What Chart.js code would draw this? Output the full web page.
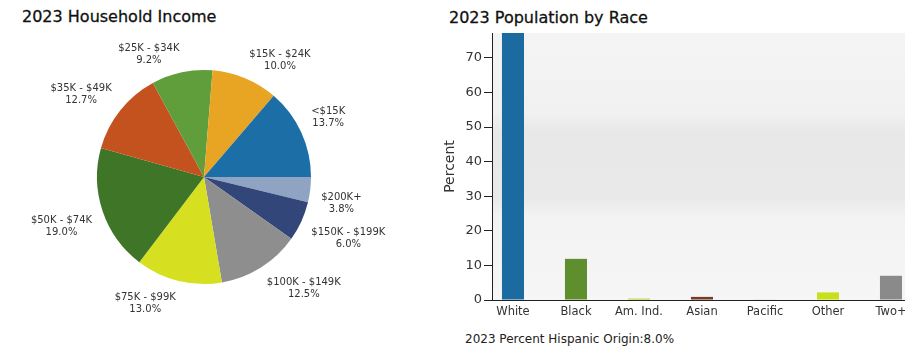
<!DOCTYPE html>
<html>
<head>
<meta charset="utf-8">
<script src="https://cdn.jsdelivr.net/npm/chart.js@4"></script>
<style>
  body { margin: 0; width: 905px; height: 349px; overflow: hidden; background: #fff; position: relative; font-family: "DejaVu Sans", sans-serif; }
  .title { position: absolute; font-size: 16px; color: #111; white-space: nowrap; -webkit-text-stroke: 0.3px #111; }
  .box { position: absolute; }
</style>
</head>
<body>
<div class="title" style="left:22px;top:7px">2023 Household Income</div>
<div class="title" style="left:449px;top:8px">2023 Population by Race</div>
<div class="box" style="left:0;top:0;width:410px;height:349px"><canvas id="pieChart"></canvas></div>
<div class="box" style="left:440px;top:0;width:493px;height:330px"><canvas id="barChart"></canvas></div>
<div class="title" style="left:465px;top:332px;font-size:12px;color:#222;-webkit-text-stroke:0">2023 Percent Hispanic Origin:8.0%</div>

<script>
// household income (pie)
const incomeLabels = ['<$15K', '$15K - $24K', '$25K - $34K', '$35K - $49K', '$50K - $74K',
  '$75K - $99K', '$100K - $149K', '$150K - $199K', '$200K+'];
const incomeValues = [13.7, 10.0, 9.2, 12.7, 19.0, 13.0, 12.5, 6.0, 3.8];
const incomeColors = ['#1c6ea6', '#e8a524', '#5f9e3a', '#c4521f', '#3e7527',
  '#d6e020', '#8e8e8e', '#33467a', '#8fa3c3'];

// population by race (bars)
const raceLabels = ['White', 'Black', 'Am. Ind.', 'Asian', 'Pacific', 'Other', 'Two+'];
const raceValues = [77.2, 11.9, 0.4, 0.9, 0.1, 2.2, 7.0];
const raceColors = ['#1b6aa0', '#5e8e2e', '#b7c81c', '#7a3b25', '#9ab6d6', '#c8e01a', '#8a8a8a'];
const yTicks = [0, 10, 20, 30, 40, 50, 60, 70];

// the pie runs counter-clockwise from 3 o'clock, chart.js goes clockwise -> reverse
const pieLabels = incomeLabels.slice().reverse();
const pieValues = incomeValues.slice().reverse();
const pieColors = incomeColors.slice().reverse();

const pieLabelPlugin = {
  id: 'pieLabels',
  afterDraw(chart) {
    const ctx = chart.ctx;
    const meta = chart.getDatasetMeta(0);
    ctx.save();
    ctx.font = '10px "DejaVu Sans"';
    ctx.fillStyle = '#333';
    ctx.textBaseline = 'middle';
    ctx.textAlign = 'center';
    const lineH = 12;
    meta.data.forEach((arc, i) => {
      const p = arc.getProps(['x', 'y', 'startAngle', 'endAngle', 'outerRadius'], true);
      const a = (p.startAngle + p.endAngle) / 2;
      const r = p.outerRadius + 11;
      const sin = Math.sin(a);
      const ax = p.x + r * Math.cos(a);
      // upper labels sit a bit closer to the pie
      const ay = p.y + r * sin - (sin < 0 ? 5 * sin : 0);
      const lines = [pieLabels[i], pieValues[i].toFixed(1) + '%'];
      const w = Math.max(...lines.map(l => ctx.measureText(l).width));
      const cx = Math.cos(a) < 0 ? ax - w / 2 : ax + w / 2;
      const top = sin < 0 ? ay - lines.length * lineH : ay;
      lines.forEach((l, k) => ctx.fillText(l, cx, top + lineH / 2 + k * lineH));
    });
    ctx.restore();
  }
};

new Chart(document.getElementById('pieChart'), {
  type: 'pie',
  data: {
    labels: pieLabels,
    datasets: [{
      data: pieValues,
      backgroundColor: pieColors,
      borderWidth: 0
    }]
  },
  options: {
    responsive: true,
    maintainAspectRatio: false,
    animation: false,
    rotation: 90,
    layout: { padding: { left: 97, right: 99, top: 70, bottom: 65 } },
    plugins: { legend: { display: false }, tooltip: { enabled: false } }
  },
  plugins: [pieLabelPlugin]
});

const plotBackground = {
  id: 'plotBackground',
  beforeDraw(chart) {
    const { ctx, chartArea: a } = chart;
    const g = ctx.createLinearGradient(0, a.top, 0, a.bottom);
    g.addColorStop(0, '#f4f4f4');
    g.addColorStop(0.3, '#f1f1f1');
    g.addColorStop(0.37, '#e8e8e8');
    g.addColorStop(0.62, '#e9e9e9');
    g.addColorStop(0.68, '#f2f2f2');
    g.addColorStop(1, '#f6f6f6');
    ctx.save();
    ctx.fillStyle = g;
    ctx.fillRect(a.left, a.top, a.right - a.left, a.bottom - a.top);
    ctx.restore();
  }
};

// bars sit on a numeric x axis so the first bar can hug the y axis like the original
new Chart(document.getElementById('barChart'), {
  type: 'bar',
  data: {
    datasets: [{
      data: raceValues.map((v, i) => ({ x: i, y: v })),
      backgroundColor: raceColors,
      barPercentage: 0.35,
      categoryPercentage: 1
    }]
  },
  options: {
    responsive: true,
    maintainAspectRatio: false,
    animation: false,
    layout: { padding: { top: 33, left: 0, right: 0, bottom: 0 } },
    plugins: { legend: { display: false }, tooltip: { enabled: false } },
    scales: {
      x: {
        type: 'linear',
        offset: false,
        min: -0.333,
        max: 6.667,
        afterBuildTicks(scale) { scale.ticks = raceLabels.map((l, i) => ({ value: i })); },
        grid: { display: true, drawOnChartArea: false, drawTicks: false, color: 'rgba(0,0,0,0)' },
        border: { display: true, color: '#222', width: 1 },
        ticks: {
          color: '#333', font: { family: 'DejaVu Sans', size: 11.5 }, padding: 5, maxRotation: 0, autoSkip: false,
          callback: v => raceLabels[v]
        },
        afterFit(scale) {
          scale.height = 30;
          scale.paddingLeft = 0;
          scale.paddingRight = 0;
        }
      },
      y: {
        min: 0,
        max: 77.2,
        afterBuildTicks(scale) { scale.ticks = yTicks.map(v => ({ value: v })); },
        grid: { drawOnChartArea: false, tickLength: 8, color: '#222' },
        border: { display: true, color: '#222', width: 1 },
        ticks: { color: '#333', font: { family: 'DejaVu Sans', size: 13 }, padding: 2 },
        title: { display: true, text: 'Percent', color: '#333', font: { family: 'DejaVu Sans', size: 14 }, padding: { top: 2, bottom: 0 } },
        afterFit(scale) { scale.width = 52; }
      }
    }
  },
  plugins: [plotBackground]
});
</script>
</body>
</html>
